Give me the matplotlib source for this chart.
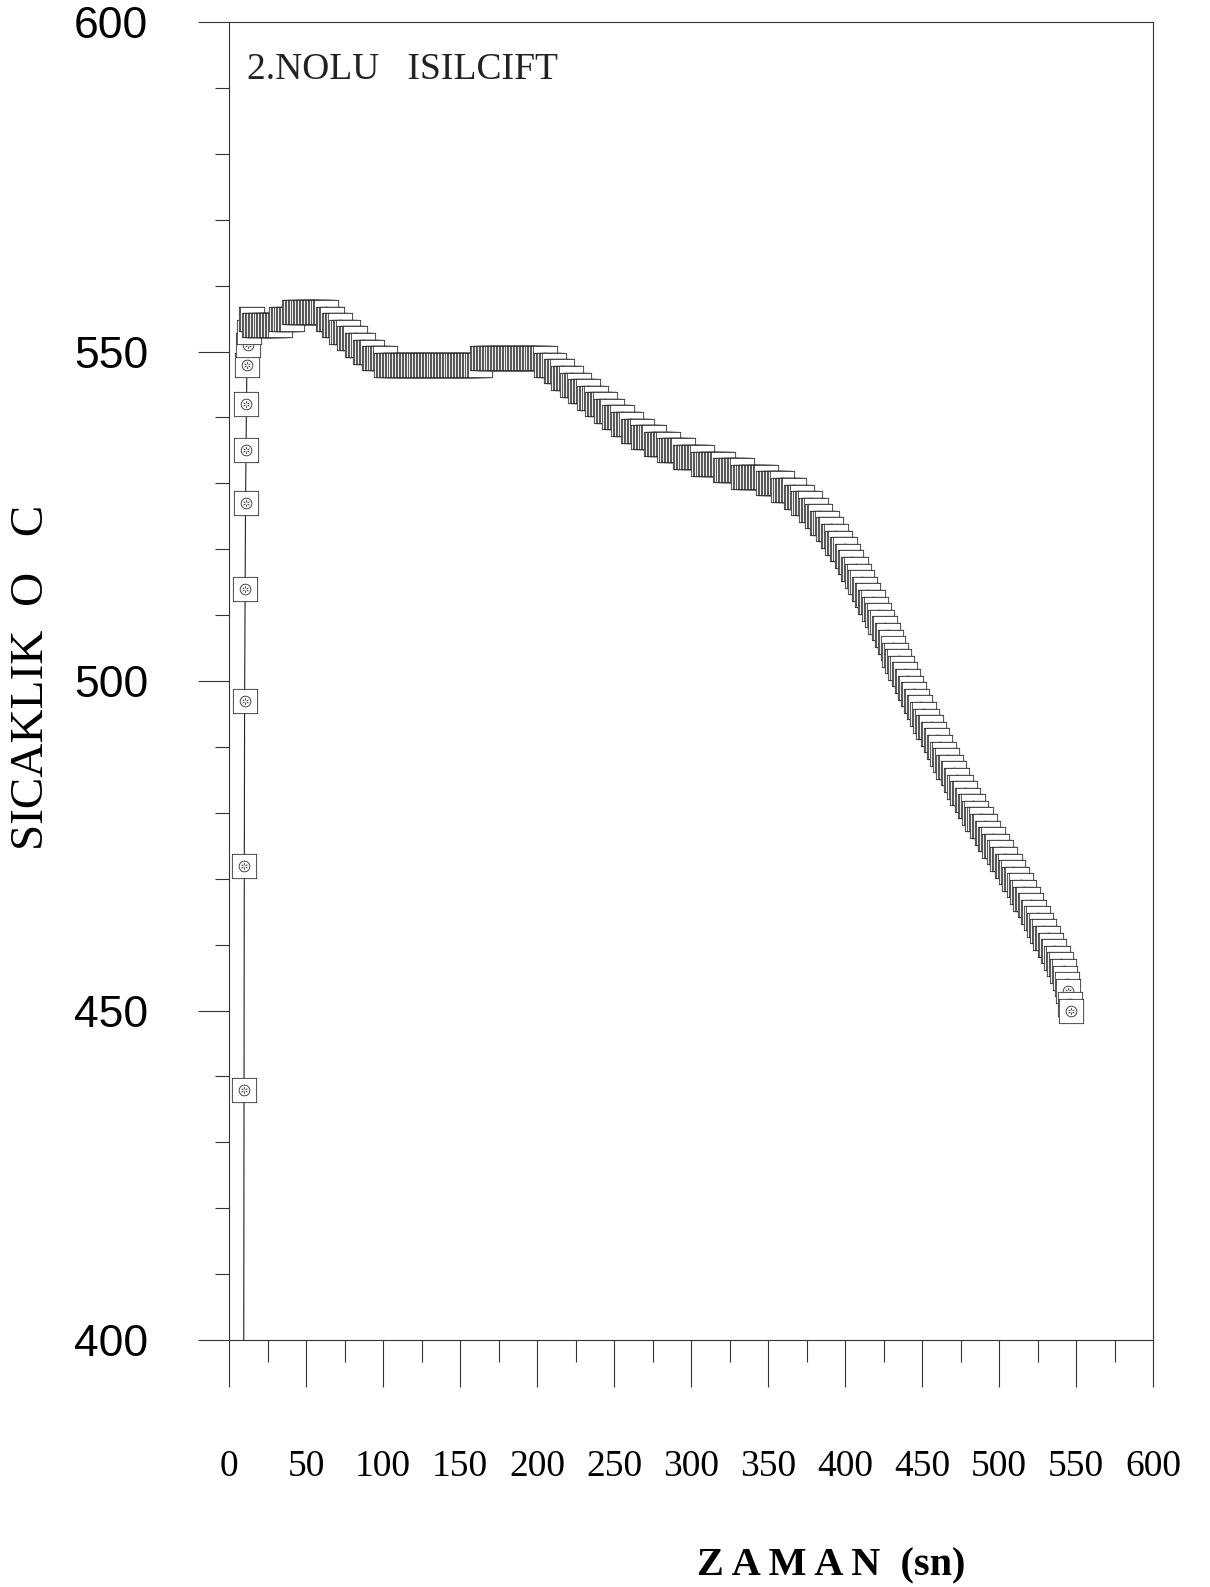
import numpy as np
import matplotlib
matplotlib.use("Agg")
import matplotlib.pyplot as plt
from matplotlib.path import Path
from matplotlib.ticker import MultipleLocator

# heat-up readings (close together in time)
rise_time = [9.5, 9.7, 9.9, 10.1, 10.4, 10.7, 11.0, 11.3, 11.6]
rise_temp = [392, 438, 472, 497, 514, 527, 535, 542, 548]

# then one reading per second from t=12 s: temperature level and seconds held
step_start = 12
step_temp = [551, 553, 555, 554, 555, 556, 555, 554, 553, 552,
             551, 550, 549, 548, 549, 548, 547, 546, 545, 544,
             543, 542, 541, 540, 539, 538, 537, 536, 535, 534,
             533, 532, 531, 530, 529, 528, 527, 526, 525, 524,
             523, 522, 521, 520, 519, 518, 517, 516, 515, 514,
             513, 512, 511, 510, 509, 508, 507, 506, 505, 504,
             503, 502, 501, 500, 499, 498, 497, 496, 495, 494,
             493, 492, 491, 490, 489, 488, 487, 486, 485, 484,
             483, 482, 481, 480, 479, 478, 477, 476, 475, 474,
             473, 472, 471, 470, 469, 468, 467, 466, 465, 464,
             463, 462, 461, 460, 459, 458, 457, 456, 455, 454,
             453, 451, 450]
step_secs = [1, 1, 2, 18, 8, 22, 4, 5, 5, 5,
             5, 6, 8, 62, 42, 6, 5, 6, 5, 6,
             5, 6, 5, 6, 6, 7, 8, 9, 10, 12,
             14, 12, 16, 10, 8, 5, 5, 4, 3, 4,
             3, 3, 3, 3, 2, 2, 3, 2, 2, 2,
             2, 3, 2, 2, 2, 2, 2, 2, 1, 2,
             2, 2, 2, 2, 2, 2, 2, 2, 2, 2,
             3, 2, 2, 2, 2, 2, 3, 2, 2, 2,
             3, 2, 3, 2, 3, 3, 2, 3, 3, 2,
             3, 3, 2, 3, 2, 2, 3, 2, 2, 2,
             2, 2, 3, 2, 2, 2, 2, 2, 1, 1,
             1, 1, 1]

x_ticks = [0, 50, 100, 150, 200, 250, 300, 350, 400, 450, 500, 550, 600]
y_ticks = [400, 450, 500, 550, 600]

step_t = step_start + np.arange(sum(step_secs))
step_v = np.repeat(step_temp, step_secs)
t = np.concatenate([rise_time, step_t])
v = np.concatenate([rise_temp, step_v])

# square marker with a small circled star inside
sq = Path([(-0.5, -0.5), (0.5, -0.5), (0.5, 0.5), (-0.5, 0.5), (-0.5, -0.5)],
          [Path.MOVETO, Path.LINETO, Path.LINETO, Path.LINETO, Path.CLOSEPOLY])
parts = [sq, Path.circle((0, 0), 0.22)]
for a in np.deg2rad([90, 150, 210, 270, 330, 30]):
    parts.append(Path([(0.05 * np.cos(a), 0.05 * np.sin(a)),
                       (0.14 * np.cos(a), 0.14 * np.sin(a))]))
marker = Path.make_compound_path(*parts)

serif = ["Liberation Serif", "DejaVu Serif"]
sans = ["Liberation Sans", "DejaVu Sans"]

fig = plt.figure(figsize=(12.1, 15.87), dpi=100)
ax = fig.add_axes([0.1893, 0.1556, 0.7636, 0.8305])

ax.plot(t, v, color="#222222", lw=0.8, marker=marker, markersize=17.5,
        markerfacecolor="white", markeredgecolor="#2a2a2a", markeredgewidth=0.6)

ax.set_xlim(0, 600)
ax.set_ylim(400, 600)
ax.set_xticks(x_ticks)
ax.set_yticks(y_ticks)
ax.xaxis.set_minor_locator(MultipleLocator(25))
ax.yaxis.set_minor_locator(MultipleLocator(10))

for s in ax.spines.values():
    s.set_linewidth(0.8)
    s.set_color("#333333")

ax.tick_params(axis="x", which="major", direction="out", length=34, width=0.8,
               pad=45, labelsize=27, color="#333333")
ax.tick_params(axis="x", which="minor", direction="out", length=16, width=0.8,
               color="#333333")
ax.tick_params(axis="y", which="major", direction="out", length=22, width=0.8,
               pad=36, labelsize=32, color="#333333")
ax.tick_params(axis="y", which="minor", direction="out", length=10, width=0.8,
               color="#333333")
for lab in ax.get_xticklabels():
    lab.set_family(serif)
for lab in ax.get_yticklabels():
    lab.set_family(sans)

ax.text(0.0195, 0.9636, "2.NOLU   ISILCIFT", transform=ax.transAxes,
        family=serif, fontsize=27, ha="left", va="center", color="#222222")

fig.text(0.687, 0.0135, "Z A M A N  (sn)", family=serif, fontsize=29,
         fontweight="bold", ha="center", va="center")
fig.text(0.026, 0.573, "SICAKLIK  O   C", family=serif, fontsize=34,
         rotation=90, ha="center", va="center")

fig.savefig("out.png", dpi=100)
